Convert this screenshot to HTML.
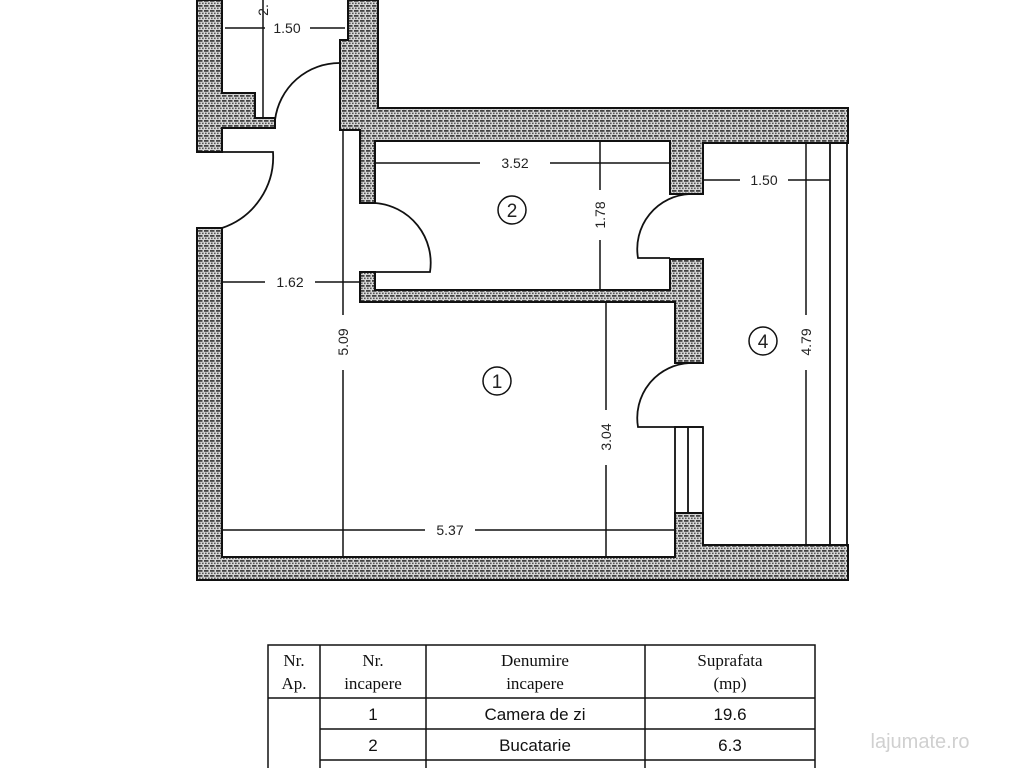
<!DOCTYPE html>
<html><head><meta charset="utf-8"><style>
html,body{margin:0;padding:0;background:#fff;}
svg{display:block}
</style></head><body>
<svg width="1024" height="768" viewBox="0 0 1024 768" xmlns="http://www.w3.org/2000/svg" font-family="Liberation Sans, sans-serif">
<defs>
<pattern id="h" width="6" height="5" patternUnits="userSpaceOnUse">
<rect width="6" height="5" fill="#d8d8d8"/>
<rect x="0" y="0" width="4.5" height="1.8" fill="#444"/>
<rect x="1" y="2.6" width="1.6" height="1.5" fill="#555"/>
<rect x="4" y="2.6" width="1.6" height="1.5" fill="#555"/>
</pattern>
</defs>
<g fill="url(#h)" stroke="#111" stroke-width="2">
<polygon points="197,0 222,0 222,93 255,93 255,118 275,118 275,128 222,128 222,152 197,152"/>
<polygon points="197,228 222,228 222,557 675,557 675,513 703,513 703,545 848,545 848,580 197,580"/>
<polygon points="348,0 378,0 378,108 848,108 848,143 703,143 703,194 670,194 670,141 375,141 375,203 360,203 360,130 340,130 340,40 348,40"/>
<polygon points="360,272 375,272 375,290 670,290 670,259 703,259 703,363 675,363 675,302 360,302"/>
</g>
<g fill="none" stroke="#111" stroke-width="1.8">
<path d="M340,63 A65,65 0 0 0 275,120"/>
<path d="M222,152 L273,152 A75,75 0 0 1 222,228"/>
<path d="M375,203 A60,60 0 0 1 430,272 L375,272"/>
<path d="M690,194 A55,55 0 0 0 638,258 L670,258"/>
<path d="M690,363 A55,55 0 0 0 638,427 L703,427"/>
<rect x="675" y="427" width="28" height="86"/>
<line x1="688" y1="427" x2="688" y2="513"/>
<line x1="830" y1="143" x2="830" y2="545"/>
<line x1="847" y1="143" x2="847" y2="545"/>
</g>
<g stroke="#111" stroke-width="1.5" fill="none">
<line x1="225" y1="28" x2="265" y2="28"/><line x1="310" y1="28" x2="345" y2="28"/>
<line x1="263" y1="0" x2="263" y2="118"/>
<line x1="375" y1="163" x2="480" y2="163"/><line x1="550" y1="163" x2="670" y2="163"/>
<line x1="600" y1="141" x2="600" y2="190"/><line x1="600" y1="240" x2="600" y2="290"/>
<line x1="222" y1="282" x2="265" y2="282"/><line x1="315" y1="282" x2="360" y2="282"/>
<line x1="343" y1="130" x2="343" y2="315"/><line x1="343" y1="370" x2="343" y2="557"/>
<line x1="606" y1="302" x2="606" y2="410"/><line x1="606" y1="465" x2="606" y2="557"/>
<line x1="222" y1="530" x2="425" y2="530"/><line x1="475" y1="530" x2="675" y2="530"/>
<line x1="703" y1="180" x2="740" y2="180"/><line x1="788" y1="180" x2="830" y2="180"/>
<line x1="806" y1="143" x2="806" y2="315"/><line x1="806" y1="370" x2="806" y2="545"/>
<circle cx="512" cy="210" r="14"/><circle cx="497" cy="381" r="14"/><circle cx="763" cy="341" r="14"/>
</g>
<g font-size="14" fill="#222" text-anchor="middle">
<text x="287" y="33">1.50</text>
<text x="515" y="168">3.52</text>
<text x="290" y="287">1.62</text>
<text x="450" y="535">5.37</text>
<text x="764" y="185">1.50</text>
<text transform="translate(605,215) rotate(-90)">1.78</text>
<text transform="translate(348,342) rotate(-90)">5.09</text>
<text transform="translate(611,437) rotate(-90)">3.04</text>
<text transform="translate(811,342) rotate(-90)">4.79</text>
<text transform="translate(268,10) rotate(-90)">2.</text>
<text x="512" y="217" font-size="19">2</text>
<text x="497" y="388" font-size="19">1</text>
<text x="763" y="348" font-size="19">4</text>
</g>
<g stroke="#111" stroke-width="1.5" fill="none">
<rect x="268" y="645" width="547" height="130"/>
<line x1="320" y1="645" x2="320" y2="768"/>
<line x1="426" y1="645" x2="426" y2="768"/>
<line x1="645" y1="645" x2="645" y2="768"/>
<line x1="268" y1="698" x2="815" y2="698"/>
<line x1="320" y1="729" x2="815" y2="729"/>
<line x1="320" y1="760" x2="815" y2="760"/>
</g>
<g font-family="Liberation Serif, serif" font-size="17" fill="#111" text-anchor="middle">
<text x="294" y="666">Nr.</text><text x="294" y="689">Ap.</text>
<text x="373" y="666">Nr.</text><text x="373" y="689">incapere</text>
<text x="535" y="666">Denumire</text><text x="535" y="689">incapere</text>
<text x="730" y="666">Suprafata</text><text x="730" y="689">(mp)</text>
</g>
<g font-size="17" fill="#111" text-anchor="middle">
<text x="373" y="720">1</text><text x="535" y="720">Camera de zi</text><text x="730" y="720">19.6</text>
<text x="373" y="751">2</text><text x="535" y="751">Bucatarie</text><text x="730" y="751">6.3</text>
</g>
<text x="920" y="748" font-size="20" fill="#d0d0d0" text-anchor="middle">lajumate.ro</text>
</svg>
</body></html>
